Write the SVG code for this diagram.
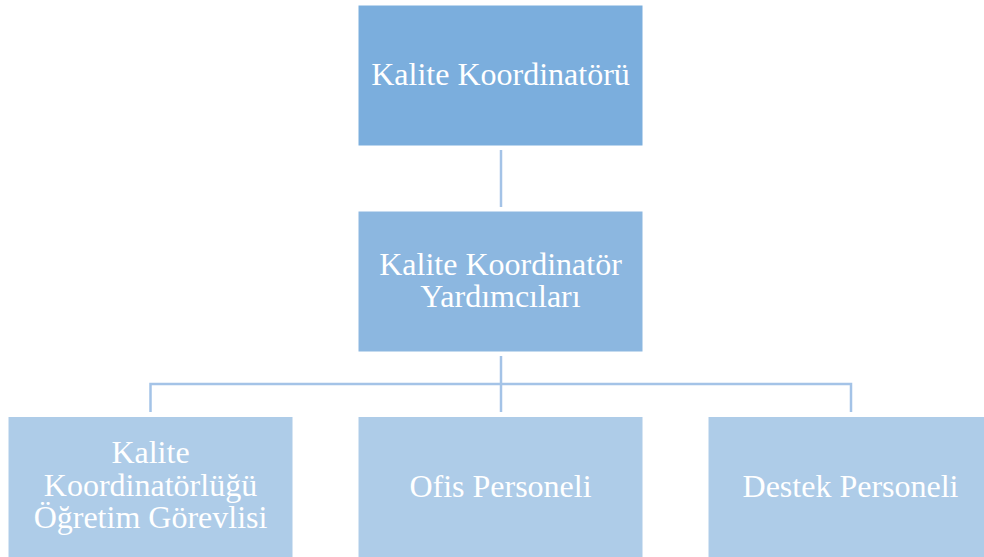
<svg xmlns="http://www.w3.org/2000/svg" width="984" height="557" viewBox="0 0 984 557">
<style>
.t{font-family:"Liberation Serif","Times New Roman",serif;font-size:32px;fill:#ffffff;text-anchor:middle}
.c{stroke:#A4C3E7;stroke-width:2.5;fill:none}
.b{stroke:#ffffff;stroke-width:1}
</style>
<rect width="984" height="557" fill="#ffffff"/>
<g id="connectors">
<line class="c" x1="501" y1="150" x2="501" y2="207"/>
<line class="c" x1="501" y1="356" x2="501" y2="412"/>
<polyline class="c" points="150.5,412 150.5,384 851,384 851,412"/>
</g>
<g id="n1">
<rect class="b" x="358" y="5" width="285" height="141" fill="#7BAEDD"/>
<text class="t" x="500.5" y="85">Kalite Koordinatörü</text>
</g>
<g id="n2">
<rect class="b" x="358" y="211" width="285" height="141" fill="#8CB7E0"/>
<text class="t" x="500.5" y="275">Kalite Koordinatör</text>
<text class="t" x="500.5" y="307">Yardımcıları</text>
</g>
<g id="n3">
<rect class="b" x="8" y="416.5" width="285" height="141" fill="#AECCE8"/>
<text class="t" x="150.5" y="463">Kalite</text>
<text class="t" x="150.5" y="496">Koordinatörlüğü</text>
<text class="t" x="150.5" y="528">Öğretim Görevlisi</text>
</g>
<g id="n4">
<rect class="b" x="358" y="416.5" width="285" height="141" fill="#AECCE8"/>
<text class="t" x="500.5" y="497">Ofis Personeli</text>
</g>
<g id="n5">
<rect class="b" x="708" y="416.5" width="285" height="141" fill="#AECCE8"/>
<text class="t" x="850.5" y="497">Destek Personeli</text>
</g>
</svg>
